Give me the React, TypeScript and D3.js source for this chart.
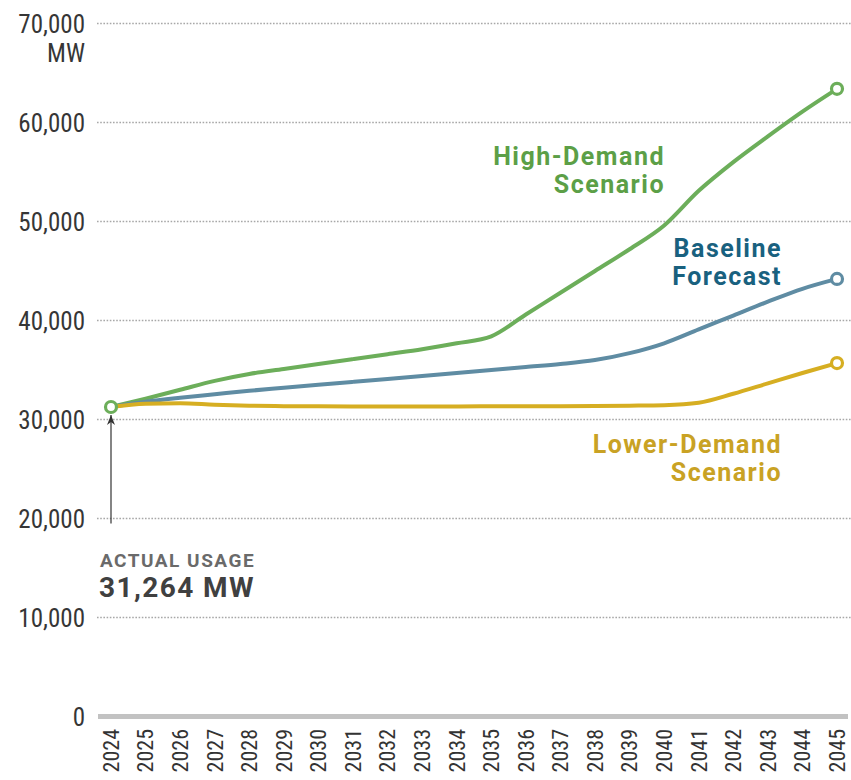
import React from "react";
import * as d3 from "d3";

const years = [2024, 2025, 2026, 2027, 2028, 2029, 2030, 2031, 2032, 2033, 2034, 2035, 2036, 2037, 2038, 2039, 2040, 2041, 2042, 2043, 2044, 2045];
const highDemand = [31264, 32100, 33000, 33900, 34600, 35100, 35600, 36100, 36600, 37100, 37700, 38400, 40600, 42800, 45000, 47200, 49600, 53100, 56000, 58600, 61100, 63400];
const baseline = [31264, 31800, 32200, 32550, 32900, 33200, 33500, 33800, 34100, 34400, 34700, 35000, 35300, 35600, 36000, 36700, 37700, 39100, 40500, 41900, 43200, 44200];
const lowerDemand = [31264, 31600, 31650, 31500, 31400, 31350, 31330, 31320, 31320, 31320, 31320, 31330, 31340, 31350, 31370, 31400, 31450, 31700, 32600, 33650, 34700, 35700];
const yTicks = [0, 10000, 20000, 30000, 40000, 50000, 60000, 70000];
const actualUsage = 31264;

const W = 851;
const H = 780;

export default function App() {
  const x = d3.scaleLinear().domain([2024, 2045]).range([111, 837]);
  const y = d3.scaleLinear().domain([0, 70000]).range([716.5, 23.5]);
  const fmt = d3.format(",");

  const series = [
    { name: "high", values: highDemand, color: "#6cae5a" },
    { name: "base", values: baseline, color: "#5f8ca3" },
    { name: "low", values: lowerDemand, color: "#d6ae22" },
  ];
  const line = d3
    .line<number>()
    .x((_, i) => x(years[i]))
    .y((d) => y(d))
    .curve(d3.curveMonotoneX);

  const narrow = "'Liberation Sans Narrow', 'Roboto Condensed', 'Arial Narrow', sans-serif";
  const bold = "Roboto, 'Liberation Sans', sans-serif";

  return (
    <div style={{ position: "absolute", left: 0, top: 0 }}>
      <svg width={W} height={H} style={{ display: "block", background: "#fff" }}>
        <defs>
          <marker id="arr" viewBox="0 0 10 8" refX="10" refY="4" markerWidth="10" markerHeight="8" orient="auto" markerUnits="userSpaceOnUse">
            <path d="M0,0 L10,4 L0,8 L3,4 Z" fill="#333" />
          </marker>
        </defs>
        {/* gridlines */}
        {yTicks.filter((t) => t > 0).map((t) => (
          <line key={t} x1={97} x2={851} y1={y(t)} y2={y(t)} stroke="#a8a8a8" strokeWidth={1.6} strokeDasharray="1.6 1.6" />
        ))}
        {/* baseline axis */}
        <line x1={98} x2={848} y1={y(0)} y2={y(0)} stroke="#c2c2c2" strokeWidth={5} />
        {/* y labels */}
        {yTicks.map((t) => (
          <text key={t} x={85} y={y(t)} dy="0.36em" textAnchor="end" fontFamily={narrow} fontSize={25} fill="#363636">
            {fmt(t)}
          </text>
        ))}
        <text x={85} y={y(70000) + 29} dy="0.36em" textAnchor="end" fontFamily={narrow} fontSize={25} fill="#363636">
          MW
        </text>
        {/* x labels */}
        {years.map((yr) => (
          <text key={yr} transform={`translate(${x(yr)},729) rotate(-90)`} dy="0.36em" textAnchor="end" fontFamily={narrow} fontSize={22} fill="#333">
            {yr}
          </text>
        ))}
        {/* lines */}
        {series.map((s) => (
          <path key={s.name} d={line(s.values) || ""} fill="none" stroke={s.color} strokeWidth={4} strokeLinejoin="round" strokeLinecap="round" />
        ))}
        {/* end markers */}
        {series.map((s) => (
          <circle key={s.name} cx={x(2045)} cy={y(s.values[s.values.length - 1])} r={5.5} fill="#fff" stroke={s.color} strokeWidth={3.2} />
        ))}
        <circle cx={x(2024)} cy={y(actualUsage)} r={5.5} fill="#fff" stroke="#6cae5a" strokeWidth={3.2} />
        {/* annotation arrow */}
        <line x1={x(2024)} x2={x(2024)} y1={y(20000) + 5} y2={y(actualUsage) + 8} stroke="#333" strokeWidth={1.2} markerEnd="url(#arr)" />
        <text x={100} y={567} fontFamily={bold} fontWeight={700} fontSize={19} letterSpacing={1.5} fill="#6a6a6a">ACTUAL USAGE</text>
        <text x={99} y={597} fontFamily={bold} fontWeight={700} fontSize={28} letterSpacing={1.4} fill="#404040">{fmt(actualUsage)} MW</text>
        {/* series labels */}
        <g fontFamily={bold} fontWeight={700} fontSize={25} letterSpacing={1.5} textAnchor="end">
          <text x={665} y={165} fill="#5c9f47">High-Demand</text>
          <text x={665} y={193} fill="#5c9f47">Scenario</text>
          <text x={782} y={257} fill="#19617f">Baseline</text>
          <text x={782} y={285} fill="#19617f">Forecast</text>
          <text x={782} y={453} fill="#c9a224">Lower-Demand</text>
          <text x={782} y={481} fill="#c9a224">Scenario</text>
        </g>
      </svg>
    </div>
  );
}
